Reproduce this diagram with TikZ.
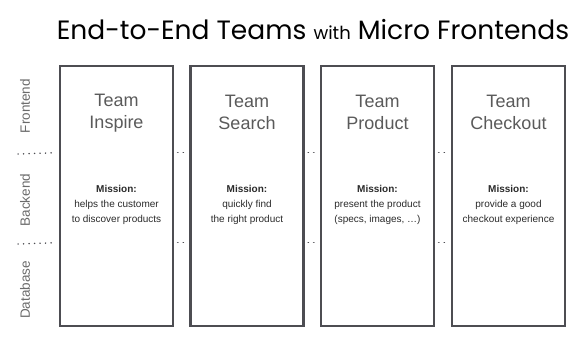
\documentclass[tikz,border=0pt]{standalone}
\usepackage{fontspec}
\setmainfont{Liberation Sans}
\newfontfamily\titlefont{Poppins}
\definecolor{boxgray}{HTML}{4D4D52}
\definecolor{teamgray}{HTML}{5A5A5A}
\definecolor{labelgray}{HTML}{6A6A6A}
\definecolor{misstext}{HTML}{2A2A2A}
\begin{document}
\begin{tikzpicture}[x=1pt,y=-1pt,
  teambox/.style={draw=boxgray,line width=2.6pt,minimum width=113pt,minimum height=260pt,inner sep=0pt},
  teamname/.style={text=teamgray,align=center,font=\fontsize{18}{22}\selectfont},
  mission/.style={text=misstext,align=center,font=\fontsize{10}{15}\selectfont},
  sidelabel/.style={text=labelgray,rotate=90,font=\fontsize{13.5}{15}\selectfont},
  dotline/.style={draw=boxgray,line width=1.5pt,line cap=round,dash pattern=on 0.2pt off 5.3pt}]
\useasboundingbox (0,0) rectangle (586,340);
\node[anchor=base,font=\titlefont\fontsize{26.5}{30}\selectfont] (title) at (313,39) {End-to-End Teams {\fontsize{18}{22}\selectfont with} Micro Frontends};

\node[teambox] (b1) at (116.5,196) {};
\node[teambox] (b2) at (247,196) {};
\node[teambox] (b3) at (377.5,196) {};
\node[teambox] (b4) at (508.5,196) {};

\foreach \b/\t/\ma/\mb in {b1/Inspire/helps the customer/to discover products,
                           b2/Search/quickly find/the right product,
                           b3/Product/present the product/{(specs, images, \ldots)},
                           b4/Checkout/provide a good/checkout experience}{
  \node[teamname] (\b t) at ([yshift=-48]\b.north) {Team\\\t};
  \node[mission] (\b m) at ([yshift=-140]\b.north) {\textbf{Mission:}\\\ma\\\mb};
  \path (\b.north west) ++(0,88) coordinate (\b wf) ++(0,90) coordinate (\b wb);
  \path (\b.north east) ++(0,88) coordinate (\b ef) ++(0,90) coordinate (\b eb);
}

\coordinate (lf) at (18,154);
\coordinate (lb) at (18,244);
\draw[dotline] (lf) -- ([xshift=-3]b1wf);
\draw[dotline] (lb) -- ([xshift=-3]b1wb);
\foreach \a/\c in {b1/b2,b2/b3,b3/b4}{
  \draw[dotline] ([xshift=3.4]\a ef) -- ([xshift=-3.2]\c wf);
  \draw[dotline] ([xshift=3.4]\a eb) -- ([xshift=-3.2]\c wb);
}

\node[sidelabel] (fe) at (25,106) {Frontend};
\node[sidelabel] (be) at (25,200) {Backend};
\node[sidelabel] (db) at (25,290) {Database};
\end{tikzpicture}
\end{document}
